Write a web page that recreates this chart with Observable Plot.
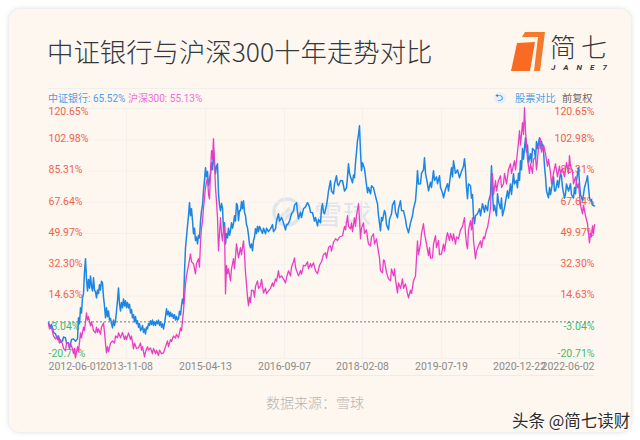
<!DOCTYPE html>
<html>
<head>
<meta charset="utf-8">
<script src="https://cdn.jsdelivr.net/npm/d3@7"></script>
<script src="https://cdn.jsdelivr.net/npm/@observablehq/plot@0.6"></script>
<style>
html,body{margin:0;padding:0;background:#fff;}
#page{position:relative;width:640px;height:440px;overflow:hidden;font-family:Roboto,"Noto Sans CJK SC",sans-serif;}
#card{position:absolute;left:8px;top:8px;width:622px;height:423px;background:#fef7f0;border-radius:12px;border:1px solid #eef0f2;box-shadow:0 0 4px rgba(120,130,140,.18);}
.t{position:absolute;white-space:nowrap;line-height:1;}
#chart{position:absolute;left:0;top:0;}
#chart svg{background:transparent;display:block;}
</style>
</head>
<body>
<div id="page">
<div id="card"></div>
<div class="t" style="left:47px;top:38px;font-size:26.4px;font-weight:300;color:#34383c;font-family:'Noto Sans CJK SC',sans-serif;">中证银行与沪深300十年走势对比</div>
<svg style="position:absolute;left:505px;top:28px" width="115" height="50">
<polygon points="20,4 40,4 35,43 29,43 33,9 17,9" fill="#f57a2c"/>
<polygon points="12,15 30,14 25,43 6,43" fill="#f96a22"/>
<text x="45" y="29" font-size="26" font-weight="300" fill="#33383d" textLength="57" font-family="Noto Sans CJK SC">简七</text>
<text x="46" y="42" font-size="8" font-weight="700" font-style="italic" fill="#33383d" textLength="56">JANE7</text>
</svg>
<div style="position:absolute;left:48px;top:88px;width:546px;height:1px;background:#f0efee;"></div>
<div class="t" style="left:48px;top:94px;font-size:10px;color:#4a9fe8;">中证银行: 65.52%</div>
<div class="t" style="left:128px;top:94px;font-size:10px;color:#f06cdc;">沪深300: 55.13%</div>
<div style="position:absolute;left:494px;top:92px;width:12px;height:12px;border-radius:6px;background:#e6f0fa;"></div>
<div class="t" style="left:495px;top:93px;font-size:10px;color:#2a7ad0;">⮌</div>
<div class="t" style="left:515px;top:94px;font-size:10.2px;color:#4a9fe8;">股票对比</div>
<div class="t" style="left:562px;top:94px;font-size:10.2px;color:#6a6a6a;">前复权</div>
<svg style="position:absolute;left:272px;top:196px" width="32" height="32"><g fill="none" stroke="#dfe5ed" stroke-width="3.5"><circle cx="15" cy="16" r="13"/><path d="M6 24 L18 12 M12 24 L24 12"/></g></svg>
<div class="t" style="left:314px;top:199px;font-size:28px;color:#dfe5ed;letter-spacing:1px;font-family:'Noto Sans CJK SC',sans-serif;">雪球</div>
<div id="chart"></div>
<div style="position:absolute;left:48px;top:375px;width:546px;height:1px;background:#e6eef5;"></div>
<div class="t" style="left:266px;top:395px;font-size:14px;font-weight:300;color:#b4b4b4;font-family:'Noto Sans CJK SC',sans-serif;">数据来源&#xFF1A;雪球</div>
<div class="t" style="left:512px;top:412px;font-size:16.5px;color:#2c2c2c;font-family:'Noto Sans CJK SC',sans-serif;text-shadow:0 0 2px #fff,0 0 2px #fff;">头条 @简七读财</div>
</div>
<script>
const yTicks = [120.65,102.98,85.31,67.64,49.97,32.30,14.63,-3.04,-20.71];
const xTickPeriods = [0,78,157,236,314,393,471,546];
const xTickLabels = ["2012-06-01","2013-11-08","2015-04-13","2016-09-07","2018-02-08","2019-07-19","2020-12-22","2022-06-02"];

const bankPoints = [[0,-0.6],[2,-3],[3,-1.5],[5,-6],[7,-6.8],[9,-10],[10,-8],[12,-11.5],[14,-10.8],[15,-8.5],[17,-9.1],[18,-12],[20,-11.9],[21,-15],[23,-10],[25,-9.6],[27,-11],[29,-9.6],[30,2.3],[31,-1],[32,8],[33,5],[34,13.6],[35,16],[36,28],[37,35.7],[38,24],[39,17.5],[40,24],[41,19],[42,26],[43,20],[44,17.5],[45,24.9],[46,18],[47,17],[48,13.6],[49,18],[50,16],[51,21],[52,18],[53,23],[54,22.1],[55,14],[56,9],[57,2.3],[58,8],[59,3],[60,6.2],[61,1],[62,2],[63,-1],[64,-3.4],[65,1],[66,-2],[67,0.6],[68,6],[69,12],[70,19.2],[71,10],[72,6.2],[73,11],[74,8],[75,13],[76,9],[77,11.9],[78,8],[79,11],[80,7.9],[81,10],[82,5],[83,7],[84,2.3],[85,4],[86,0],[87,3],[88,-1],[89,0.6],[90,-3],[91,-1],[92,-5],[93,-4],[94,-2],[95,-6],[96,-4],[97,-6.8],[98,-3],[99,-4],[100,-1],[101,-2],[102,0.6],[103,-1.5],[104,1],[105,-2],[106,0],[107,-2],[108,0.5],[109,-1.1],[110,1],[111,-2],[112,0],[113,-3],[114,-1],[115,-4],[116,-1],[117,3],[118,7.4],[119,4],[120,6],[121,3],[122,5.5],[123,3],[124,4.5],[125,2],[126,4],[127,1],[128,3],[129,1],[130,1.7],[131,6],[132,4],[133,9],[134,13],[135,10.2],[136,28],[137,41.9],[138,48],[139,54.3],[140,60],[141,67.4],[142,60],[143,64],[144,57.2],[145,49.8],[146,53],[147,46],[148,48],[149,44.1],[150,49],[151,47.5],[152,57],[153,62.8],[154,66],[155,74],[156,80],[157,87.2],[158,82],[159,85],[160,77],[161,80],[162,83.8],[163,90],[164,86],[165,96.8],[166,89],[167,83.8],[168,88],[169,89.4],[170,72.4],[171,66],[172,62.8],[173,67],[174,64.5],[175,52],[176,56],[177,44.1],[178,50],[179,47.5],[180,53],[181,49],[182,51.5],[183,56],[184,53],[185,55.5],[186,60],[187,57],[188,67],[189,65.7],[190,57.2],[191,63],[192,62.8],[193,68],[194,64],[195,68.5],[196,62],[197,60],[198,55],[199,53.2],[200,49],[201,44],[202,41.9],[203,44],[204,40.2],[205,46],[206,48],[207,52.6],[208,50],[209,54],[210,51],[211,54],[212,52.6],[214,50],[215,53],[217,49.8],[218,53],[220,51],[222,52.6],[224,55],[225,51],[227,52.6],[228,57],[230,61.1],[231,57],[233,59],[235,56],[237,52],[238,55],[239,54.9],[241,57],[243,61],[245,62.8],[246,66],[248,67.4],[249,62],[250,58.3],[252,62],[253,59],[255,64],[257,65],[259,67.4],[261,65],[262,62],[264,61.7],[266,57],[267,59],[269,54.3],[270,58],[272,56],[273,64],[274,66.8],[275,62],[276,61.1],[278,66],[279,69.6],[280,74],[282,79.8],[283,74],[285,72.4],[286,78],[288,82.6],[289,78],[290,77],[292,80],[294,79.8],[296,74],[298,75.8],[299,82],[300,89.4],[301,84],[302,82],[304,78.7],[305,83],[306,81.5],[307,90],[308,96],[309,102.4],[310,106],[311,110.9],[312,96],[313,85.5],[314,90],[316,86.6],[317,82],[319,73],[320,76],[322,72.4],[323,77],[325,75.8],[327,71],[329,66.8],[330,60],[332,51.5],[333,59],[334,57.2],[336,63],[337,61.1],[338,55],[340,52.1],[341,58],[343,61.1],[344,66],[346,68.5],[347,62],[349,58.9],[350,64],[352,68.5],[353,63],[355,62.8],[357,58],[358,54],[360,50.4],[362,56],[364,60],[365,64],[367,68.5],[368,76],[369,85.5],[370,78],[372,78.1],[373,84],[375,86],[376,92.8],[377,84],[379,78],[380,74.1],[382,79],[383,76],[385,85.5],[386,80],[388,82],[389,78.1],[391,82.6],[392,76],[394,73],[395,70.2],[397,75],[399,78.1],[400,74],[402,83],[403,87.2],[404,82],[405,91.1],[407,84],[409,86],[411,81.5],[413,85],[415,88],[416,92.3],[417,86],[418,76],[419,69.6],[420,78],[422,77],[423,70],[424,72],[425,60],[426,55.5],[427,60],[429,61.1],[431,64],[432,60],[434,66.8],[436,62],[437,66],[439,62.8],[440,68],[442,72],[443,88.3],[444,74],[445,62.8],[446,66],[448,60],[449,72.4],[450,68],[452,64],[453,70],[454,60],[456,64.5],[457,68],[459,74.1],[460,70],[462,78],[463,72],[465,83.8],[466,78],[468,80],[469,75.8],[470,84],[471,80],[472,91.1],[473,86],[474,98],[475,92],[477,104.1],[478,96],[479,100],[480,90],[482,95.1],[483,90],[484,98],[486,96.8],[487,92],[488,102],[489,98],[491,104.1],[492,98],[493,102],[495,96.8],[496,88],[497,82],[498,74],[500,70.2],[501,76],[502,72],[504,78.7],[505,82],[506,74],[507,74.1],[509,80],[510,76],[512,84],[513,82.6],[514,76],[516,70],[517,72.4],[518,78],[520,74],[522,78.1],[523,72],[525,70],[526,76],[527,72.4],[528,80],[530,87.2],[531,78],[532,72],[534,68.5],[535,72],[536,76],[538,80],[539,82.6],[540,76],[541,70],[542,68.5],[543,69],[544,66],[546,65.5]];

const indexPoints = [[0,-1.1],[1,-4],[3,-3],[5,-8],[7,-9.6],[9,-8],[11,-12],[12,-10],[14,-12.5],[15,-15],[17,-16.4],[18,-12],[20,-11.9],[21,-15],[22,-12],[24,-15.3],[25,-18],[26,-15],[27,-20.4],[29,-14],[30,-17],[32,-6.2],[33,-9],[35,-3],[36,-5],[38,5.1],[39,1],[40,3],[42,-2.3],[43,0],[45,-5],[47,-6.2],[48,-3],[49,-6],[50,-4],[52,-7],[53,-3],[55,-0.6],[56,-6],[57,-12],[58,-17.5],[59,-14],[60,-17],[62,-12],[64,-10.8],[66,-12],[67,-8],[69,-9],[70,-6.2],[72,-9],[74,-6],[76,-10],[77,-7.9],[78,-10],[80,-6.2],[82,-10],[83,-8],[85,-15.3],[86,-12],[88,-15],[90,-14.7],[92,-12],[93,-16],[94,-14],[96,-19.8],[97,-17],[99,-14],[100,-16],[102,-14.7],[104,-18],[105,-15],[107,-18.1],[108,-16],[110,-19],[111,-16],[113,-18],[115,-17.5],[117,-14],[119,-10.8],[120,-14],[122,-10],[123,-11],[125,-8],[127,-9.1],[128,-7],[130,-9],[132,-3.4],[133,-5],[135,6.2],[136,14],[137,21.5],[138,26],[140,32],[142,38.5],[143,34],[145,32.8],[147,27.2],[148,33],[150,35.7],[151,31],[152,45],[153,53.2],[154,57],[155,64.5],[156,70],[157,76],[159,81.5],[160,72],[161,69.6],[162,84],[163,96.8],[164,92],[165,103.6],[166,90],[167,75.8],[168,68],[169,58.9],[170,40.2],[171,50],[172,58.9],[173,50],[174,45.8],[175,52],[176,54.3],[177,15.8],[178,32],[179,27.2],[180,30],[182,23.2],[183,30],[185,35.7],[186,30],[188,44.1],[189,40],[190,36.2],[192,42],[193,38],[195,45.8],[196,38],[197,28],[198,21.5],[199,14],[200,9.1],[201,14],[202,11],[203,18],[205,17.5],[206,14],[207,20],[209,23.2],[210,19],[212,20.4],[213,24],[215,16.4],[217,19],[218,16],[220,17.5],[222,19],[224,22],[225,20],[227,24.3],[228,23],[230,28.9],[231,25],[233,26],[235,24.3],[237,22],[238,25],[240,28.9],[242,26],[243,31],[245,34],[246,36.2],[247,31],[248,29],[250,26],[252,29],[253,27],[255,32],[257,31.7],[259,34],[260,30],[262,33],[263,31],[265,33.4],[267,29],[269,27.2],[271,32],[273,34],[275,38],[277,39.1],[278,36],[280,42],[282,43],[283,40],[285,45],[287,47],[289,46],[291,48],[294,48.7],[296,54],[297,52],[299,60],[300,54],[302,52.6],[303,56],[304,51],[306,58.9],[307,54],[308,60],[310,66.8],[311,58],[312,47],[313,53],[315,56],[316,50],[318,52],[319,47.5],[320,44],[322,43],[323,48],[325,49.8],[326,44],[328,47],[329,43],[331,36],[332,29],[334,27.7],[335,35],[336,34.5],[338,28],[340,24.3],[342,23.2],[343,30],[345,26],[346,30],[347,24],[349,16.4],[350,22],[352,19],[354,24.3],[355,19],[357,21.5],[359,16],[360,13.6],[362,18],[363,16],[365,23.2],[367,26],[368,36],[369,45.8],[370,38],[372,44.1],[373,50],[375,55.5],[376,50],[378,44],[380,37.4],[381,42],[382,36],[384,36.2],[385,44],[387,48.7],[388,42],[390,46],[391,38],[393,38.5],[395,44],[396,40],[398,48],[399,50.4],[401,46],[402,50],[404,46],[405,49.8],[407,44],[408,48],[410,47],[412,52],[414,54],[416,58.9],[417,50],[418,44],[419,41.3],[420,52],[422,57.2],[423,52],[424,58.9],[425,46],[427,35.7],[428,40],[430,43],[432,45.8],[433,42],[435,48],[436,47],[438,52],[439,53.2],[441,60],[442,64.5],[443,78],[444,83.8],[445,72],[447,79.8],[448,74],[450,80],[452,82.6],[453,76],[455,78.1],[456,84],[458,78],[460,86],[462,89.4],[463,84],[466,91.1],[467,86],[469,96],[471,108.1],[472,100],[474,112.6],[475,106],[476,121.1],[477,108],[478,100.7],[479,92],[481,84],[482,89.4],[484,84],[485,92],[487,92.8],[488,86],[490,98],[492,103.6],[493,96],[495,100],[497,95.1],[499,88],[500,92],[502,84.3],[503,78],[505,84],[507,89.4],[509,82],[511,88],[512,84],[514,86.6],[516,82],[518,90],[520,84],[521,94],[522,88],[524,85.5],[525,78],[527,82],[529,75.8],[530,78],[532,66],[534,61.1],[535,66],[537,60],[539,55.5],[540,50],[541,44.7],[542,50],[543,48],[544,54.3],[545,50],[546,55]];

const xRows = xTickPeriods.map((p,i)=>({p,label:xTickLabels[i]}));
const pct = v => v.toFixed(2)+"%";
const labelColor = v => v>=0 ? "#f0634c" : "#3dbb6c";
const midTicks = yTicks.slice(1,8);
const yFloor = yTicks[yTicks.length-1];
const font = 10.5;

function yLabels(frame, anchor){
  return [
    Plot.text([yTicks[0]],{frameAnchor:frame,y:d=>d,text:pct,fill:labelColor,textAnchor:anchor,dy:3,fontSize:font}),
    Plot.text(midTicks,{frameAnchor:frame,y:d=>d,text:pct,fill:labelColor,textAnchor:anchor,dy:-1,fontSize:font}),
    Plot.text([yFloor],{frameAnchor:frame,y:d=>d,text:pct,fill:labelColor,textAnchor:anchor,dy:-5,fontSize:font})
  ];
}

const chart = Plot.plot({
  width:640,height:440,
  marginLeft:48,marginRight:46,marginTop:108,marginBottom:82,
  style:{background:"transparent",fontFamily:'Roboto,"Noto Sans CJK SC",sans-serif'},
  x:{domain:[0,546],axis:null},
  y:{domain:[yFloor,yTicks[0]],axis:null},
  marks:[
    Plot.ruleY(yTicks.filter(d=>d!==-3.04),{stroke:"#f3f0ec",strokeWidth:1}),
    Plot.ruleX(xTickPeriods.slice(1,7),{stroke:"#f4f1ed",strokeWidth:1}),
    ...yLabels("left","start"),
    ...yLabels("right","end"),
    Plot.ruleY([0],{stroke:"#777",strokeDasharray:"2 2",strokeWidth:1}),
    Plot.text(xRows.slice(0,1),{x:"p",y:()=>yFloor,text:"label",fill:"#8a8a8a",textAnchor:"start",dy:8,fontSize:font}),
    Plot.text(xRows.slice(1,7),{x:"p",y:()=>yFloor,text:"label",fill:"#8a8a8a",textAnchor:"middle",dy:8,fontSize:font}),
    Plot.text(xRows.slice(7),{x:"p",y:()=>yFloor,text:"label",fill:"#8a8a8a",textAnchor:"end",dy:8,fontSize:font}),
    Plot.line(bankPoints,{x:d=>d[0],y:d=>d[1],stroke:"#1c86e2",strokeWidth:1.5,strokeLinejoin:"round"}),
    Plot.line(indexPoints,{x:d=>d[0],y:d=>d[1],stroke:"#e83ec6",strokeWidth:1.3,strokeLinejoin:"round"})
  ]
});
document.getElementById("chart").appendChild(chart);
</script>
</body>
</html>
